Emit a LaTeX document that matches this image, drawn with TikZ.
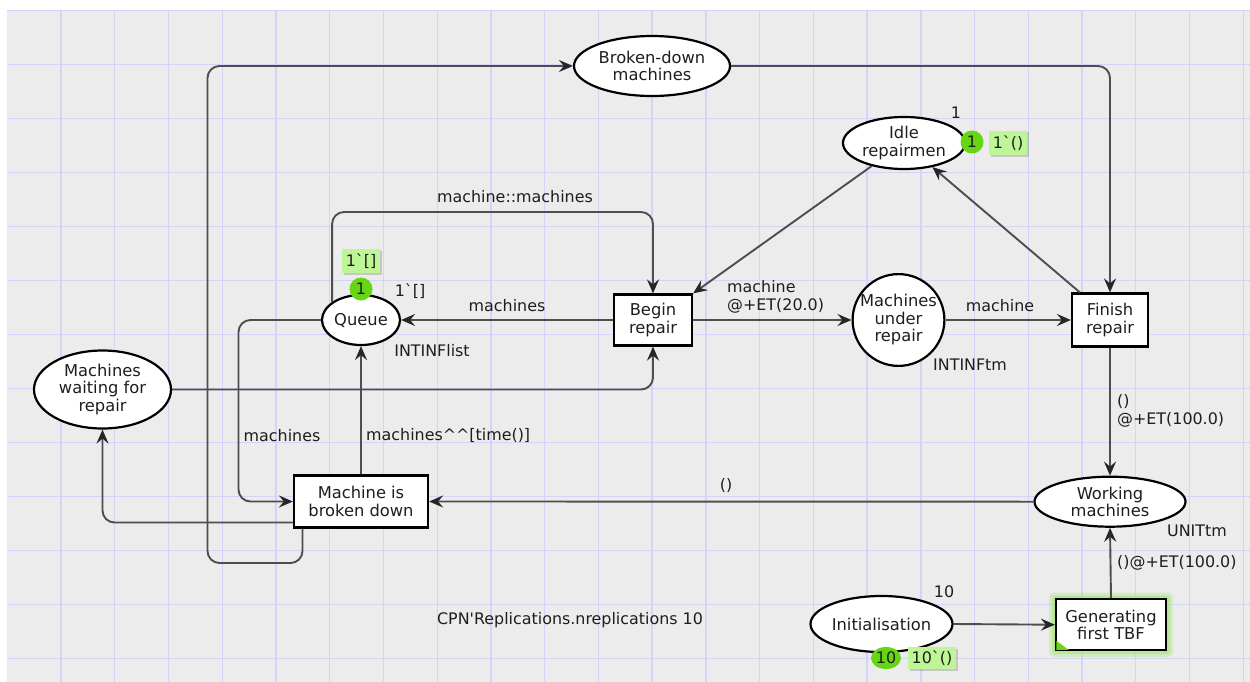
\documentclass[tikz,border=0pt]{standalone}
\usepackage{fontspec}
\newfontfamily\dv{DejaVu Sans}
\usetikzlibrary{shapes.geometric,arrows.meta,shadows,calc}
\definecolor{bgc}{RGB}{236,236,236}
\definecolor{gridc}{RGB}{212,212,250}
\definecolor{arcc}{RGB}{78,78,78}
\definecolor{tokc}{RGB}{102,214,20}
\definecolor{markc}{RGB}{190,245,150}
\definecolor{txtc}{RGB}{30,30,30}
\definecolor{glowc}{RGB}{170,230,120}
\begin{document}
\begin{tikzpicture}[x=1pt,y=-1pt,
  every node/.style={font=\dv\fontsize{15.9}{17.5}\selectfont, text=txtc},
  nodefont/.style={font=\dv\fontsize{16.3}{17.5}\selectfont},
  place/.style={ellipse, draw=black, line width=2.2pt, fill=white, inner sep=0pt, align=center, nodefont},
  trans/.style={rectangle, draw=black, line width=2.2pt, fill=white, inner sep=0pt, align=center, nodefont},
  arc/.style={draw=arcc, line width=1.9pt, rounded corners=12pt, -{Stealth[length=14pt,width=12pt,inset=5pt,color=black!85]}},
  lbl/.style={inner sep=0pt, align=left},
  token/.style={circle, fill=tokc, inner sep=0pt, minimum size=23pt},
  marking/.style={rectangle, fill=markc, inner sep=0pt, drop shadow={shadow xshift=1.5pt, shadow yshift=-1.5pt, opacity=0.35}}
]
\useasboundingbox (0,0) rectangle (1250,682);
\fill[white] (0,0) rectangle (1250,682);
\fill[bgc] (7.3,10.5) rectangle (1250,682);
\foreach \k in {0,...,22} \draw[gridc, line width=1.3pt] ({61+53.74*\k},10.5) -- ({61+53.74*\k},682);
\foreach \k in {0,...,12} \draw[gridc, line width=1.3pt] (7.3,{10.7+54*\k}) -- (1250,{10.7+54*\k});

% places
\node[place, minimum width=156pt, minimum height=60pt] (bd) at (652,66) {Broken-down\\machines};
\node[place, minimum width=122pt, minimum height=52pt] (id) at (904,143) {Idle\\repairmen};
\node[place, minimum width=78pt, minimum height=50pt] (q) at (361,320) {Queue};
\node[place, minimum width=137pt, minimum height=78pt] (wt) at (102.5,389.5) {Machines\\waiting for\\repair};
\node[place, circle, minimum size=90pt] (mur) at (898.5,320) {Machines\\under\\repair};
\node[place, minimum width=151pt, minimum height=50pt] (wm) at (1110,501.7) {Working\\machines};
\node[place, minimum width=142pt, minimum height=56pt] (ini) at (881.5,624) {Initialisation};

% transitions
\node[trans, minimum width=78pt, minimum height=51pt] (br) at (653,320) {Begin\\repair};
\node[trans, minimum width=76pt, minimum height=53pt] (fr) at (1110,320) {Finish\\repair};
\node[trans, minimum width=134pt, minimum height=52pt] (mbd) at (361,501.5) {Machine is\\broken down};
\fill[glowc, opacity=0.35, rounded corners=5pt] (1049,592.5) rectangle (1173,657);
\fill[glowc, opacity=0.6, rounded corners=3pt] (1052,595.5) rectangle (1170,654);
\node[trans, minimum width=110pt, minimum height=51pt] (gen) at (1111,624.7) {Generating\\first TBF};
\fill[tokc] (gen.south west) ++(1.5pt,1.5pt) -- ++(12pt,0) -- ++(-12pt,9pt) -- cycle;

% coordinates
\coordinate (c212) at (0,212);
\coordinate (lx) at (238.5,0);
\coordinate (ll) at (207.5,563);

% arcs
\draw[arc] (wt.east) -| (br.south);
\draw[arc] (br.west) -- (q.east);
\draw[arc] (q.148) |- (c212 -| br.north) -- (br.north);
\draw[arc] (br.east) -- (mur.west);
\draw[arc] (mur.east) -- (fr.west);
\draw[arc] ([xshift=9pt]fr.north west) -- (id);
\draw[arc] (id) -- (br.north east);
\draw[arc] (fr.south) -- (wm.north);
\draw[arc] (wm.west) -- (mbd.east);
\draw[arc] (gen.north) -- (wm.south);
\draw[arc] (ini.east) -- (gen.west);
\draw[arc] (mbd.north) -- (q.south);
\draw[arc] (q.west) -| (lx |- mbd.west) -- (mbd.west);
\draw[arc] ([yshift=-21pt]mbd.west) -| (wt.south);
\draw[arc] ([xshift=-58.5pt]mbd.south) |- (ll) |- (bd.west);
\draw[arc] (bd.east) -| (fr.north);

% arc labels
\node[lbl] (l1) at (515,197) {machine::machines};
\node[lbl] (l2) at (507,306) {machines};
\node[lbl, anchor=west] (l3) at (727,297) {machine\\@+ET(20.0)};
\node[lbl] (l4) at (1000,306) {machine};
\node[lbl, anchor=west] (l5) at (1117,411) {()\\@+ET(100.0)};
\node[lbl] (l6) at (726,486) {()};
\node[lbl, anchor=west] (l7) at (1117,563) {()@+ET(100.0)};
\node[lbl] (l8) at (282,436) {machines};
\node[lbl, anchor=west] (l9) at (366,436) {machines\string^\string^[time()]};

% place inscriptions
\node[lbl] (t1) at (432,351) {INTINFlist};
\node[lbl, anchor=west] (t2) at (933,365) {INTINFtm};
\node[lbl, anchor=west] (t3) at (1167,531) {UNITtm};
\node[lbl] (t4) at (410,291) {1`[]};
\node[lbl] (t5) at (956,113) {1};
\node[lbl] (t6) at (944,592) {10};
\node[lbl] (t7) at (570,620) {CPN'Replications.nreplications 10};

% tokens and markings
\node[marking, minimum width=38pt, minimum height=24pt] (m1) at (361,261) {1`[]};
\node[token] (k1) at (361,289) {1};
\node[token] (k2) at (972,142) {1};
\node[marking, minimum width=38pt, minimum height=24pt] (m2) at (1008,143) {1`()};
\node[token, ellipse, minimum width=30pt, minimum height=22pt] (k3) at (886,658) {10};
\node[marking, minimum width=48pt, minimum height=22pt] (m3) at (932,658) {10`()};
\end{tikzpicture}
\end{document}
